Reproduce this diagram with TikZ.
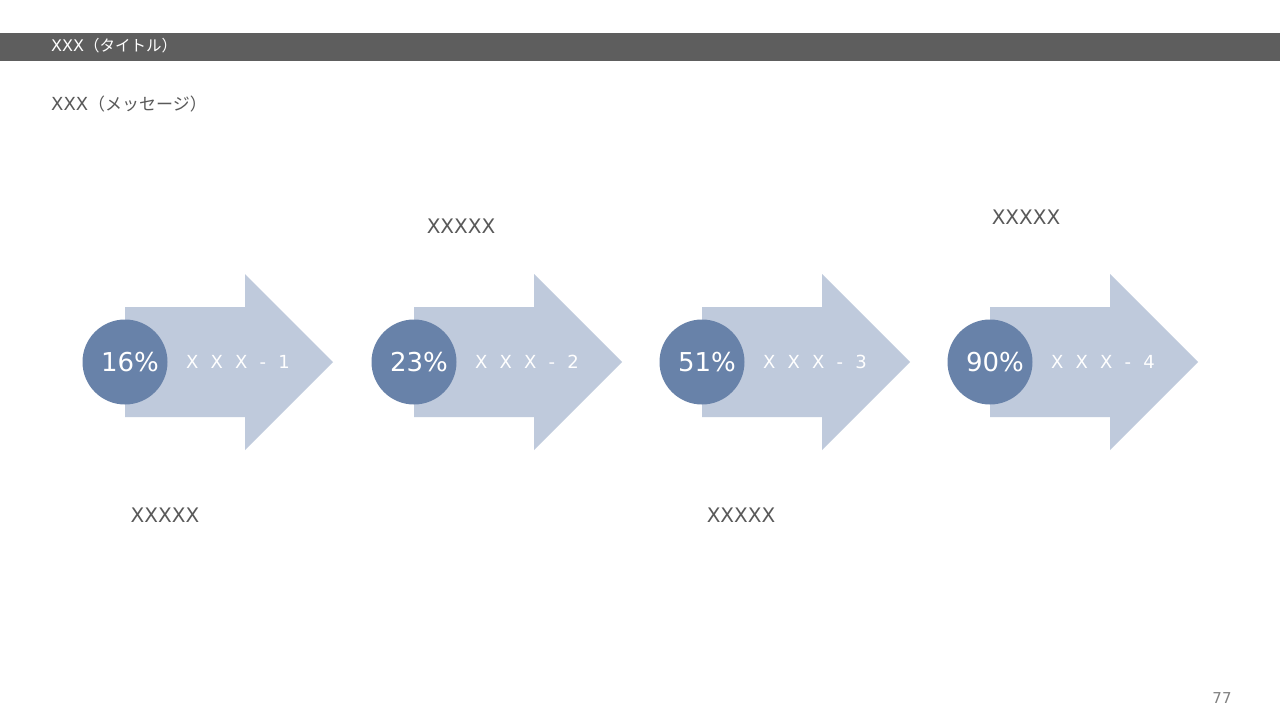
\documentclass[tikz,border=0pt]{standalone}
\usepackage{fontspec}
\setmainfont{DejaVu Sans}
\newfontfamily\jp{Noto Sans CJK JP}
\definecolor{arrowc}{HTML}{BFCADC}
\definecolor{circc}{HTML}{6882A9}
\definecolor{txtg}{HTML}{595959}
\definecolor{barc}{HTML}{5E5E5E}
\definecolor{pgc}{HTML}{808080}
\begin{document}
\begin{tikzpicture}[x=1pt,y=-1pt,
 pct/.style={circle,fill=circc,minimum size=85pt,inner sep=0pt},
 pcttext/.style={inner sep=0pt,text=white,font=\fontsize{26}{26}\selectfont},
 lbl/.style={anchor=center,inner sep=0pt,text=white,font=\fontsize{18}{18}\selectfont\addfontfeature{LetterSpace=36}},
 note/.style={text=txtg,inner sep=0pt,font=\fontsize{20}{20}\selectfont},
 arrowshape/.style={fill=arrowc}]
\useasboundingbox (0,0) rectangle (1280,720);
\fill[white] (0,0) rectangle (1280,720);
\fill[barc] (0,33) rectangle (1280,61);
\node[anchor=west,text=white,inner sep=0pt] (title) at (51,46) {\fontsize{16}{16}\selectfont XXX\jp\fontsize{15.5}{15.5}\selectfont（タイトル）};
\node[anchor=west,text=txtg,inner sep=0pt] (msg) at (51,104) {\fontsize{18}{18}\selectfont XXX\jp\fontsize{17}{17}\selectfont（メッセージ）};
\foreach \i/\p/\dx in {1/16/0,2/23/289,3/51/577,4/90/865}{
 \fill[arrowshape] (125+\dx,307) -- (245+\dx,307) -- (245+\dx,274) -- (333+\dx,362) -- (245+\dx,450) -- (245+\dx,417) -- (125+\dx,417) -- cycle;
 \node[pct] (c\i) at (125+\dx,362) {};
 \node[pcttext] (p\i) at (130+\dx,362) {\p\%};
 \node[lbl] (l\i) at (238+\dx,362) {X X X - \i};
}
\node[note] (n1) at (461,226) {XXXXX};
\node[note] (n2) at (1026,217) {XXXXX};
\node[note] (n3) at (165,515) {XXXXX};
\node[note] (n4) at (741,515) {XXXXX};
\node[text=pgc,inner sep=0pt,font=\fontsize{15}{15}\selectfont] (pg) at (1222,698) {77};
\end{tikzpicture}
\end{document}
